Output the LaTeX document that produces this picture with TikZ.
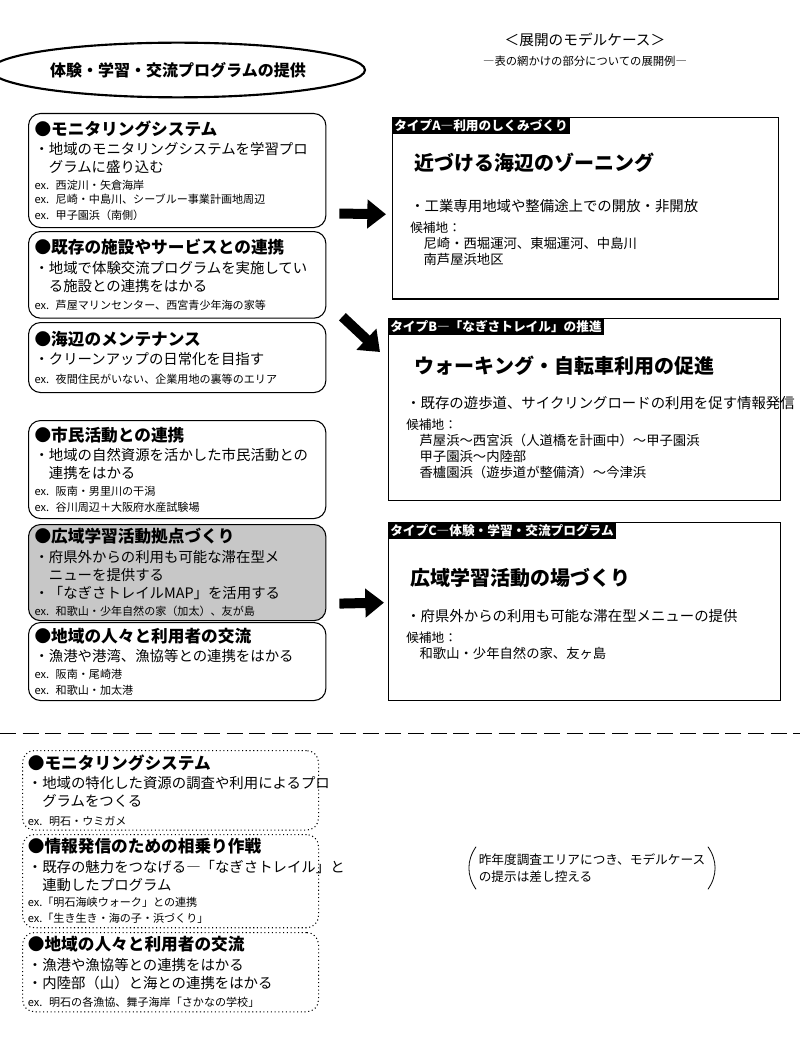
\documentclass[tikz,border=0pt]{standalone}
\usepackage{fontspec}
\setmainfont{Noto Sans CJK JP}
\usetikzlibrary{shapes.geometric,arrows.meta,calc,positioning}

\tikzset{
  leftbox/.style={draw, rounded corners=9pt, line width=0.8pt, minimum width=223pt,
    text width=214pt, align=left, inner sep=3pt, anchor=north west},
  dotbox/.style={leftbox, dotted, minimum width=222pt},
  typebox/.style={draw, line width=0.9pt, anchor=north west},
  typelabel/.style={fill=black, text=white, font=\fontsize{9.5}{10}\selectfont\bfseries\itshape,
    inner sep=1.5pt, anchor=north west},
  bigarrow/.style={line width=7.5pt, -{Triangle[width=21pt,length=14pt]}},
}
\newcommand{\boxtitle}{\fontsize{12.5}{15}\selectfont\bfseries ●}
\newcommand{\exfont}{\fontsize{8.3}{10.5}\selectfont\mdseries}
\newcommand{\bodyfont}{\fontsize{10.8}{13.5}\selectfont\mdseries}
\newcommand{\candfont}{\fontsize{9.5}{12.5}\selectfont\mdseries}

\begin{document}
\begin{tikzpicture}[x=0.75pt, y=-0.75pt]
  \useasboundingbox (0,0) rectangle (800,1045);

  % heading
  \node[ellipse, draw, line width=1.6pt, minimum width=225pt, minimum height=41pt,
    font=\fontsize{12}{14}\selectfont\bfseries] (main) at (178,70) {体験・学習・交流プログラムの提供};
  \node[font=\fontsize{11}{13}\selectfont] (head) at (585,40) {＜展開のモデルケース＞};
  \node[below=0pt of head, font=\fontsize{8.5}{10}\selectfont] (sub) {―表の網かけの部分についての展開例―};

  % left column
  \node[leftbox, minimum height=85.5pt] (b1) at (28,113) {\boxtitle モニタリングシステム\\[1pt]
    \bodyfont ・地域のモニタリングシステムを学習プロ\\\hspace*{1em}グラムに盛り込む\\[2pt]
    \exfont ex. 西淀川・矢倉海岸\\ex. 尼崎・中島川、シーブルー事業計画地周辺\\ex. 甲子園浜（南側）};
  \node[leftbox, minimum height=65pt] (b2) at (28,231) {\boxtitle 既存の施設やサービスとの連携\\[1pt]
    \bodyfont ・地域で体験交流プログラムを実施してい\\\hspace*{1em}る施設との連携をはかる\\[2pt]
    \exfont ex. 芦屋マリンセンター、西宮青少年海の家等};
  \node[leftbox, minimum height=52.5pt] (b3) at (28,322) {\boxtitle 海辺のメンテナンス\\[1pt]
    \bodyfont ・クリーンアップの日常化を目指す\\[2pt]
    \exfont ex. 夜間住民がいない、企業用地の裏等のエリア};
  \node[leftbox, minimum height=73.5pt] (b4) at (28,420) {\boxtitle 市民活動との連携\\[1pt]
    \bodyfont ・地域の自然資源を活かした市民活動との\\\hspace*{1em}連携をはかる\\[2pt]
    \exfont ex. 阪南・男里川の干潟\\ex. 谷川周辺＋大阪府水産試験場};
  \node[leftbox, fill=black!22, minimum height=70pt] (b5) at (28,524) {\boxtitle 広域学習活動拠点づくり\\[1pt]
    \bodyfont ・府県外からの利用も可能な滞在型メ\\\hspace*{1em}ニューを提供する\\・「なぎさトレイルMAP」を活用する\\[1pt]
    \exfont ex. 和歌山・少年自然の家（加太）、友が島};
  \node[leftbox, minimum height=58.5pt] (b6) at (28,622) {\boxtitle 地域の人々と利用者の交流\\[1pt]
    \bodyfont ・漁港や港湾、漁協等との連携をはかる\\[2pt]
    \exfont ex. 阪南・尾崎港\\ex. 和歌山・加太港};

  % separator
  \coordinate (sepL) at (0,733);
  \coordinate (sepR) at (800,733);
  \draw[dash pattern=on 12pt off 5pt, line width=0.6pt] (sepL) -- (sepR);

  % lower column
  \node[dotbox, minimum height=58pt] (d1) at (22,750) {\boxtitle モニタリングシステム\\[1pt]
    \bodyfont ・地域の特化した資源の調査や利用によるプロ\\\hspace*{1em}グラムをつくる\\[2pt]
    \exfont ex. 明石・ウミガメ};
  \node[dotbox, minimum height=68pt] (d2) at (22,834) {\boxtitle 情報発信のための相乗り作戦\\[1pt]
    \bodyfont ・既存の魅力をつなげる―「なぎさトレイル」と\\\hspace*{1em}連動したプログラム\\[2pt]
    \exfont ex.「明石海峡ウォーク」との連携\\ex.「生き生き・海の子・浜づくり」};
  \node[dotbox, minimum height=58.5pt] (d3) at (22,932) {\boxtitle 地域の人々と利用者の交流\\[1pt]
    \bodyfont ・漁港や漁協等との連携をはかる\\・内陸部（山）と海との連携をはかる\\[2pt]
    \exfont ex. 明石の各漁協、舞子海岸「さかなの学校」};

  % type A
  \node[typebox, minimum width=289.5pt, minimum height=136pt] (tA) at (392,117) {};
  \node[typelabel] (lA) at (tA.north west) {タイプA―利用のしくみづくり};
  \node[anchor=west, font=\fontsize{15}{18}\selectfont\bfseries] (hA) at ($(tA.north west)+(18,46)$) {近づける海辺のゾーニング};
  \node[anchor=north west, align=left, inner sep=0pt] (cA) at ($(tA.north west)+(18,82)$)
    {\bodyfont ・工業専用地域や整備途上での開放・非開放\\[4pt]
     \candfont 候補地：\\\hspace*{1em}尼崎・西堀運河、東堀運河、中島川\\\hspace*{1em}南芦屋浜地区};

  % type B
  \node[typebox, minimum width=294pt, minimum height=136.5pt] (tB) at (388,318) {};
  \node[typelabel] (lB) at (tB.north west) {タイプB―「なぎさトレイル」の推進};
  \node[anchor=west, font=\fontsize{15}{18}\selectfont\bfseries] (hB) at ($(tB.north west)+(22,48)$) {ウォーキング・自転車利用の促進};
  \node[anchor=north west, align=left, inner sep=0pt] (cB) at ($(tB.north west)+(18,78)$)
    {\bodyfont ・既存の遊歩道、サイクリングロードの利用を促す情報発信\\[4pt]
     \candfont 候補地：\\\hspace*{1em}芦屋浜～西宮浜（人道橋を計画中）～甲子園浜\\\hspace*{1em}甲子園浜～内陸部\\\hspace*{1em}香櫨園浜（遊歩道が整備済）～今津浜};

  % type C
  \node[typebox, minimum width=294pt, minimum height=133.5pt] (tC) at (388,522) {};
  \node[typelabel] (lC) at (tC.north west) {タイプC―体験・学習・交流プログラム};
  \node[anchor=west, font=\fontsize{15}{18}\selectfont\bfseries] (hC) at ($(tC.north west)+(18,56)$) {広域学習活動の場づくり};
  \node[anchor=north west, align=left, inner sep=0pt] (cC) at ($(tC.north west)+(18,87)$)
    {\bodyfont ・府県外からの利用も可能な滞在型メニューの提供\\[4pt]
     \candfont 候補地：\\\hspace*{1em}和歌山・少年自然の家、友ヶ島};

  % arrows
  \draw[bigarrow] ($(b1.east)+(13,43)$) -- ($(tA.west)+(-6,6)$);
  \draw[bigarrow] ($(b2.south east)+(16,-2)$) -- ($(tB.north west)+(-8,34)$);
  \draw[bigarrow] ($(b5.east)+(13,31)$) -- ($(tC.west)+(-4,-9)$);

  % note
  \node[align=left, font=\fontsize{9.5}{13}\selectfont] (note) at (592,868)
    {昨年度調査エリアにつき、モデルケース\\の提示は差し控える};
  \draw[line width=0.6pt] ($(note.north west)+(2,-2)$) to[bend right=35] ($(note.south west)+(2,2)$);
  \draw[line width=0.6pt] ($(note.north east)+(-2,-2)$) to[bend left=35] ($(note.south east)+(-2,2)$);
\end{tikzpicture}
\end{document}
